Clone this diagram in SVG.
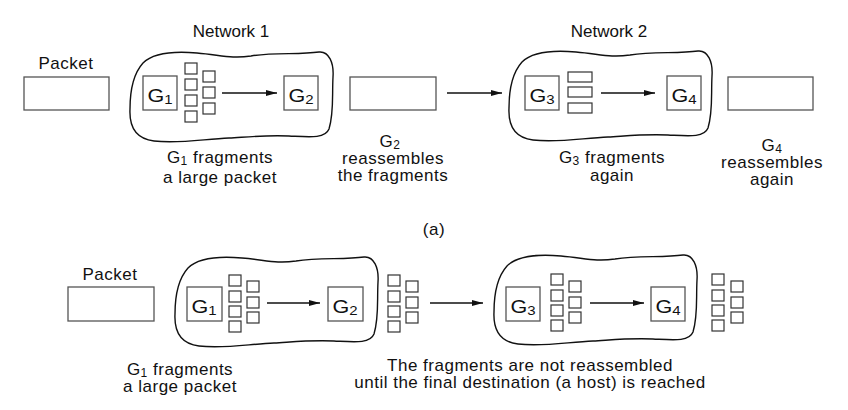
<svg xmlns="http://www.w3.org/2000/svg" xmlns:xlink="http://www.w3.org/1999/xlink" width="848" height="410" viewBox="0 0 848 410">
<style>
text{font-family:"Liberation Sans",Arial,sans-serif;font-size:17px;fill:#111;text-anchor:middle;letter-spacing:0.5px}
.net{letter-spacing:0}
.box{fill:#fff;stroke:#555;stroke-width:1.3}
.frag{fill:#fff;stroke:#333;stroke-width:1.2}
.cloud{fill:none;stroke:#111;stroke-width:1.4}
.conn{stroke:#111;stroke-width:1.3;fill:none;marker-end:url(#ah)}
.g{font-size:18px;letter-spacing:0}
.sub{font-size:12px}
.bsub{font-size:12.5px}
</style>
<defs>
<marker id="ah" markerUnits="userSpaceOnUse" markerWidth="12" markerHeight="8" refX="11" refY="4" orient="auto">
<path d="M0,1 L11,4 L0,7 Z" fill="#111"/>
</marker>
<path id="cloudShape" d="M 14,12 C 24,2 45,0 68,2 C 92,4 102,8 122,5 C 145,1 170,4 190,1 C 200,0 205,12 204,26 C 203,45 205,62 200,78 C 196,88 180,86 160,85 C 135,84 118,86 100,87 C 75,88 50,93 25,90 C 8,88 0,78 1,58 C 1,40 5,22 14,12 Z"/>
</defs>

<!-- ===== (a) ===== -->
<g id="network1">
<use xlink:href="#cloudShape" class="cloud" transform="translate(129,51)"/>
<text class="net" x="231" y="37">Network 1</text>
</g>
<g id="network2">
<use xlink:href="#cloudShape" class="cloud" transform="translate(508,50)"/>
<text class="net" x="609" y="37">Network 2</text>
</g>

<g id="a-packet">
<text x="66" y="69">Packet</text>
<rect class="box" x="24" y="77" width="85" height="33"/>
</g>
<g id="a-g1">
<rect class="box" x="143" y="76" width="34" height="34"/>
<text class="g" transform="translate(160,102) scale(1.2,1)">G<tspan class="bsub" dy="2">1</tspan></text>
</g>
<g id="a-frags1">
<rect class="frag" x="185" y="63" width="12" height="11"/>
<rect class="frag" x="185" y="79" width="12" height="11"/>
<rect class="frag" x="185" y="95" width="12" height="11"/>
<rect class="frag" x="185" y="111" width="12" height="11"/>
<rect class="frag" x="203" y="71" width="12" height="11"/>
<rect class="frag" x="203" y="87" width="12" height="11"/>
<rect class="frag" x="203" y="103" width="12" height="11"/>
</g>
<g id="a-g2">
<rect class="box" x="284" y="76" width="34" height="34"/>
<text class="g" transform="translate(301,102) scale(1.2,1)">G<tspan class="bsub" dy="2">2</tspan></text>
</g>
<g id="a-reassembled">
<rect class="box" x="350" y="77" width="86" height="33"/>
</g>
<g id="a-g3">
<rect class="box" x="525" y="76" width="34" height="34"/>
<text class="g" transform="translate(542,102) scale(1.2,1)">G<tspan class="bsub" dy="2">3</tspan></text>
</g>
<g id="a-frags3">
<rect class="frag" x="568" y="72" width="24" height="10"/>
<rect class="frag" x="568" y="87" width="24" height="10"/>
<rect class="frag" x="568" y="103" width="24" height="10"/>
</g>
<g id="a-g4">
<rect class="box" x="667" y="76" width="34" height="34"/>
<text class="g" transform="translate(684,102) scale(1.2,1)">G<tspan class="bsub" dy="2">4</tspan></text>
</g>
<g id="a-final">
<rect class="box" x="728" y="77" width="85" height="33"/>
</g>

<g id="a-labels">
<text x="220" y="163">G<tspan class="sub" dy="2">1</tspan><tspan dy="-2"> fragments</tspan></text>
<text x="220" y="183">a large packet</text>
<text x="390" y="147">G<tspan class="sub" dy="2">2</tspan></text>
<text x="393" y="164">reassembles</text>
<text x="393" y="181">the fragments</text>
<text x="612" y="163">G<tspan class="sub" dy="2">3</tspan><tspan dy="-2"> fragments</tspan></text>
<text x="612" y="181">again</text>
<text x="772" y="151">G<tspan class="sub" dy="2">4</tspan></text>
<text x="772" y="168">reassembles</text>
<text x="772" y="185">again</text>
<text x="434" y="235">(a)</text>
</g>

<!-- ===== (b) ===== -->
<g id="network1b">
<use xlink:href="#cloudShape" class="cloud" transform="translate(174,256)"/>
</g>
<g id="network2b">
<use xlink:href="#cloudShape" class="cloud" transform="translate(493,254)"/>
</g>
<g id="b-packet">
<text x="110" y="280">Packet</text>
<rect class="box" x="68" y="287" width="86" height="34"/>
</g>
<g id="b-g1">
<rect class="box" x="187" y="287" width="35" height="34"/>
<text class="g" transform="translate(204,313) scale(1.2,1)">G<tspan class="bsub" dy="2">1</tspan></text>
</g>
<g id="b-frags1">
<rect class="frag" x="229" y="275" width="12" height="11"/>
<rect class="frag" x="229" y="291" width="12" height="11"/>
<rect class="frag" x="229" y="306" width="12" height="11"/>
<rect class="frag" x="229" y="321" width="12" height="11"/>
<rect class="frag" x="247" y="281" width="12" height="11"/>
<rect class="frag" x="247" y="297" width="12" height="11"/>
<rect class="frag" x="247" y="312" width="12" height="11"/>
</g>
<g id="b-g2">
<rect class="box" x="328" y="287" width="35" height="34"/>
<text class="g" transform="translate(345,313) scale(1.2,1)">G<tspan class="bsub" dy="2">2</tspan></text>
</g>
<g id="b-frags2">
<rect class="frag" x="388" y="275" width="12" height="11"/>
<rect class="frag" x="388" y="291" width="12" height="11"/>
<rect class="frag" x="388" y="306" width="12" height="11"/>
<rect class="frag" x="388" y="321" width="12" height="11"/>
<rect class="frag" x="406" y="281" width="12" height="11"/>
<rect class="frag" x="406" y="297" width="12" height="11"/>
<rect class="frag" x="406" y="312" width="12" height="11"/>
</g>
<g id="b-g3">
<rect class="box" x="506" y="287" width="34" height="34"/>
<text class="g" transform="translate(523,313) scale(1.2,1)">G<tspan class="bsub" dy="2">3</tspan></text>
</g>
<g id="b-frags3">
<rect class="frag" x="551" y="274" width="12" height="11"/>
<rect class="frag" x="551" y="290" width="12" height="11"/>
<rect class="frag" x="551" y="305" width="12" height="11"/>
<rect class="frag" x="551" y="320" width="12" height="11"/>
<rect class="frag" x="569" y="281" width="12" height="11"/>
<rect class="frag" x="569" y="297" width="12" height="11"/>
<rect class="frag" x="569" y="312" width="12" height="11"/>
</g>
<g id="b-g4">
<rect class="box" x="651" y="287" width="34" height="34"/>
<text class="g" transform="translate(668,313) scale(1.2,1)">G<tspan class="bsub" dy="2">4</tspan></text>
</g>
<g id="b-frags4">
<rect class="frag" x="712" y="274" width="12" height="11"/>
<rect class="frag" x="712" y="290" width="12" height="11"/>
<rect class="frag" x="712" y="305" width="12" height="11"/>
<rect class="frag" x="712" y="320" width="12" height="11"/>
<rect class="frag" x="731" y="281" width="12" height="11"/>
<rect class="frag" x="731" y="297" width="12" height="11"/>
<rect class="frag" x="731" y="312" width="12" height="11"/>
</g>
<g id="b-labels">
<text x="180" y="375">G<tspan class="sub" dy="2">1</tspan><tspan dy="-2"> fragments</tspan></text>
<text x="180" y="392">a large packet</text>
<text x="530" y="371">The fragments are not reassembled</text>
<text x="530" y="388">until the final destination (a host) is reached</text>
</g>

<g id="connectors">
<line class="conn" x1="222" y1="93" x2="277" y2="93"/>
<line class="conn" x1="447" y1="93" x2="502" y2="93"/>
<line class="conn" x1="601" y1="93" x2="655" y2="93"/>
<line class="conn" x1="267" y1="303" x2="320" y2="303"/>
<line class="conn" x1="430" y1="303" x2="483" y2="303"/>
<line class="conn" x1="590" y1="303" x2="644" y2="303"/>
</g>
</svg>
